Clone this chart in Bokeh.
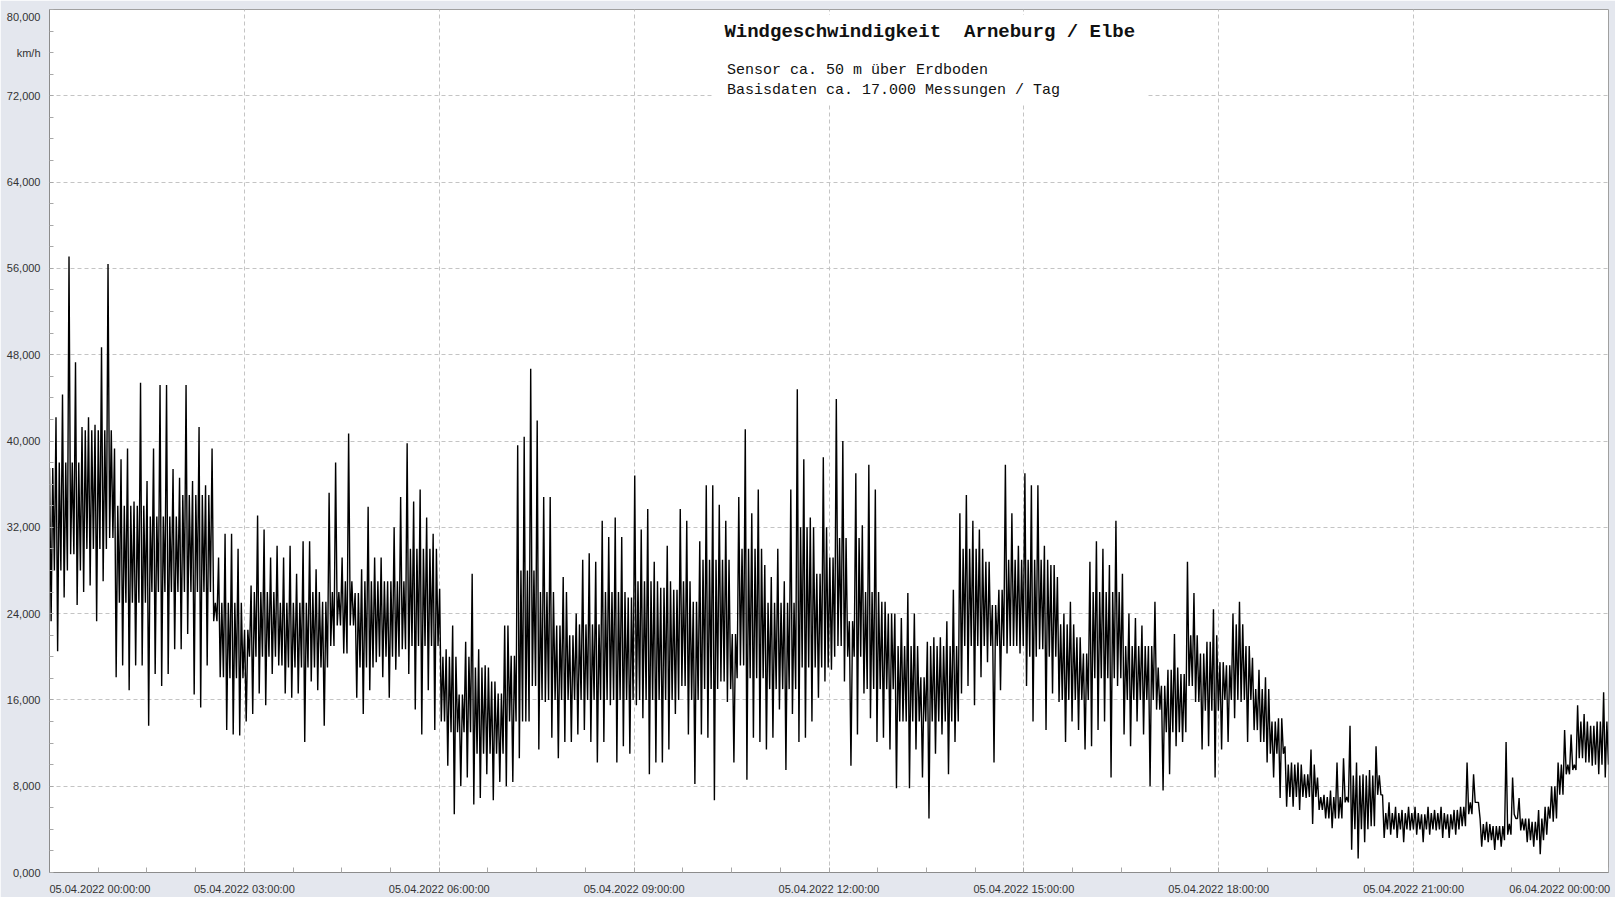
import numpy as np
from bokeh.plotting import figure
from bokeh.models import FixedTicker, CustomJSTickFormatter, Label, BoxAnnotation, ColumnDataSource
from bokeh.embed import file_html
from bokeh.resources import INLINE

# Wind speed (km/h), 05.04.2022 00:00 - 06.04.2022 00:00
# per 6-minute interval: local high and local low (spikes)
HI = [
    37.5, 42.2, 44.3, 57.1, 47.3, 41.3, 42.2, 41.5, 48.7, 56.4,   # 00h
    39.3, 38.3, 39.3, 34.4, 45.4, 36.3, 39.3, 45.2, 45.2, 37.4,   # 01h
    36.6, 45.2, 36.3, 41.3, 35.9, 39.3, 29.2, 31.4, 31.4, 30.0,   # 02h
    22.5, 26.6, 33.1, 31.8, 29.2, 30.3, 29.2, 30.3, 27.7, 30.7,   # 03h
    30.7, 28.1, 25.1, 35.2, 38.0, 29.2, 40.7, 25.9, 28.1, 33.9,   # 04h
    29.2, 29.2, 27.0, 32.0, 34.8, 39.8, 34.4, 35.5, 32.9, 31.4,   # 05h
    26.3, 20.7, 22.9, 16.5, 21.4, 27.7, 20.7, 19.2, 17.7, 16.6,   # 06h
    22.9, 20.1, 39.6, 40.4, 46.7, 41.9, 34.8, 34.8, 22.9, 27.4,   # 07h
    22.0, 24.0, 29.0, 29.6, 28.8, 32.6, 31.1, 32.9, 31.1, 25.5,   # 08h
    36.8, 31.8, 33.7, 28.8, 26.4, 30.3, 26.2, 33.7, 32.6, 25.1,   # 09h
    30.7, 35.9, 35.9, 34.1, 32.6, 22.1, 34.8, 41.1, 33.3, 35.5,   # 10h
    28.5, 27.4, 30.0, 27.0, 35.5, 44.8, 38.3, 32.9, 27.7, 38.5,   # 11h
    29.2, 43.9, 40.0, 23.3, 37.0, 32.2, 37.8, 35.5, 25.1, 24.0,   # 12h
    24.0, 23.6, 25.9, 24.0, 18.1, 21.4, 21.8, 21.8, 23.3, 26.2,   # 13h
    33.3, 35.0, 32.6, 31.8, 28.8, 24.8, 26.2, 37.8, 33.3, 30.3,   # 14h
    37.0, 35.9, 35.9, 30.3, 28.5, 27.4, 24.0, 25.1, 21.8, 20.3,   # 15h
    28.8, 30.7, 30.0, 28.5, 32.6, 27.7, 24.0, 23.6, 22.9, 21.0,   # 16h
    25.1, 17.3, 18.8, 22.1, 18.4, 28.8, 25.9, 20.3, 21.4, 24.4,   # 17h
    19.5, 19.2, 24.0, 25.1, 21.0, 19.9, 18.8, 18.1, 14.0, 14.3,   # 18h
    11.7, 10.2, 10.2, 9.1, 11.4, 8.8, 7.2, 7.6, 10.2, 10.6,       # 19h
    13.6, 10.2, 9.1, 9.5, 11.7, 7.2, 6.5, 6.1, 5.8, 6.1,          # 20h
    6.1, 5.4, 6.1, 5.8, 6.1, 5.4, 5.8, 6.1, 10.2, 9.1,            # 21h
    5.0, 4.7, 4.3, 4.3, 12.1, 8.8, 6.9, 5.0, 4.7, 5.8,            # 22h
    6.1, 8.0, 10.2, 13.2, 12.8, 15.5, 14.7, 13.6, 14.0, 16.7,     # 23h
]
LO = [
    23.3, 20.5, 25.5, 29.5, 24.8, 26.0, 26.6, 23.3, 27.0, 31.0,   # 00h
    18.1, 19.2, 16.9, 19.2, 19.2, 13.6, 18.4, 17.3, 18.4, 20.7,   # 01h
    20.7, 22.1, 16.5, 15.3, 19.2, 23.3, 18.1, 13.2, 12.8, 12.7,   # 02h
    14.0, 14.7, 16.6, 15.5, 18.4, 19.2, 16.6, 16.2, 16.6, 12.1,   # 03h
    17.7, 16.9, 13.6, 21.0, 22.9, 20.3, 22.9, 16.2, 14.7, 16.9,   # 04h
    19.5, 18.1, 16.2, 18.8, 20.7, 18.4, 15.1, 12.8, 16.9, 13.2,   # 05h
    14.0, 9.9, 5.4, 8.0, 8.8, 6.3, 6.9, 9.1, 6.7, 8.4,            # 06h
    8.0, 8.4, 10.6, 14.0, 17.3, 11.4, 15.8, 12.5, 10.6, 12.1,     # 07h
    12.1, 12.8, 13.2, 12.1, 10.2, 12.1, 15.5, 10.2, 11.7, 11.0,   # 08h
    15.5, 14.3, 9.1, 10.2, 10.2, 11.4, 14.7, 17.3, 12.8, 8.2,     # 09h
    12.8, 12.5, 6.7, 17.7, 15.8, 10.2, 19.2, 8.6, 12.5, 12.1,     # 10h
    11.4, 12.5, 15.1, 9.5, 14.7, 12.1, 12.5, 14.0, 16.2, 17.7,    # 11h
    18.8, 21.0, 17.7, 9.9, 12.8, 16.6, 14.3, 12.1, 12.5, 11.4,    # 12h
    7.8, 14.0, 7.8, 11.4, 8.8, 5.0, 11.0, 12.8, 9.1, 12.1,        # 13h
    16.6, 17.3, 15.5, 18.1, 19.5, 10.2, 16.9, 20.3, 21.0, 20.3,   # 14h
    17.3, 14.0, 20.7, 13.2, 16.6, 15.8, 12.1, 14.0, 13.2, 11.4,   # 15h
    11.7, 13.2, 14.0, 8.8, 17.3, 12.8, 11.7, 14.0, 12.8, 8.0,     # 16h
    15.1, 7.6, 9.1, 11.7, 12.1, 17.3, 15.8, 11.4, 11.7, 8.8,      # 17h
    11.4, 12.1, 14.3, 15.8, 12.1, 13.2, 12.1, 10.2, 8.8, 6.9,     # 18h
    6.1, 6.1, 5.8, 6.9, 4.5, 5.8, 5.0, 4.1, 5.0, 6.5,             # 19h
    2.1, 1.3, 2.8, 4.3, 7.2, 3.2, 3.5, 3.2, 2.8, 3.9,             # 20h
    3.5, 2.8, 3.5, 3.9, 3.2, 3.2, 3.5, 4.3, 5.4, 6.5,             # 21h
    2.4, 2.8, 2.1, 2.4, 3.5, 5.4, 3.9, 2.8, 2.4, 1.7,             # 22h
    3.5, 4.7, 7.2, 9.1, 9.5, 10.6, 10.2, 9.9, 9.1, 8.8,           # 23h
]
# per half hour: upper and lower edge of the dense core of the trace
CORE_HI = [38, 41, 34, 33, 35, 25, 26, 25, 26, 27, 27, 30, 20, 19, 28, 26,
           23, 26, 27, 27, 29, 30, 25, 32, 31, 26, 21, 21, 30, 29, 29, 23,
           26, 21, 19, 22, 23, 17, 10, 7, 9, 5.5, 5.5, 6.5, 4.5, 5, 10, 14]
CORE_LO = [28, 30, 25, 26, 26, 18, 20, 19, 19, 19, 20, 21, 13, 11, 14, 16,
           16, 16, 16, 16, 17, 18, 17, 19, 20, 17, 14, 14, 21, 21, 20, 16,
           18, 16, 13, 15, 16, 11, 7, 5, 4, 4, 4, 4, 3, 3, 5, 10]

GRID_X = [0, 3, 6, 9, 12, 15, 18, 21, 24]
X_LABEL_POS = [0.776, 3, 6, 9, 12, 15, 18, 21, 23.25]
X_LABELS = ["05.04.2022 00:00:00", "05.04.2022 03:00:00", "05.04.2022 06:00:00",
            "05.04.2022 09:00:00", "05.04.2022 12:00:00", "05.04.2022 15:00:00",
            "05.04.2022 18:00:00", "05.04.2022 21:00:00", "06.04.2022 00:00:00"]
GRID_Y = [0, 8, 16, 24, 32, 40, 48, 56, 64, 72]
Y_EXTRA_POS = [79.35, 76.0]
Y_EXTRA_LABELS = ["80,000", "km/h"]
TITLE_A = "Windgeschwindigkeit"
TITLE_B = "Arneburg / Elbe"
SUB1 = "Sensor ca. 50 m über Erdboden"
SUB2 = "Basisdaten ca. 17.000 Messungen / Tag"

vals = []
for i, (h, l) in enumerate(zip(HI, LO)):
    ch = min(CORE_HI[i // 5], h)
    cl = max(CORE_LO[i // 5], l)
    if cl > ch:
        cl = ch
    vals += [h, l, ch, cl]
t = np.linspace(0, 24, len(vals))
src = ColumnDataSource(dict(t=t, v=vals))

BG = "#E4E7EE"
p = figure(width=1615, height=897, x_range=(0, 24), y_range=(0, 80),
           output_backend="svg", toolbar_location=None,
           min_border_left=49, min_border_right=7, min_border_top=9, min_border_bottom=24,
           background_fill_color="white", border_fill_color=BG,
           outline_line_color="#A0A0A0")

p.line("t", "v", source=src, line_color="black", line_width=1.4)

TICK_GRAY = "#A8A8A8"
# x axis: tick marks every 45 min, labels placed like the original
p.xaxis.ticker = FixedTicker(ticks=X_LABEL_POS, minor_ticks=[0.75 * k for k in range(33)])
p.xaxis.formatter = CustomJSTickFormatter(args=dict(pos=X_LABEL_POS, labs=X_LABELS), code="""
for (let i = 0; i < pos.length; i++) { if (Math.abs(tick - pos[i]) < 1e-6) return labs[i]; }
return '';""")
p.xaxis.major_tick_line_color = None
p.xaxis.minor_tick_in = 5
p.xaxis.minor_tick_out = 0
p.xaxis.minor_tick_line_color = TICK_GRAY
p.xaxis.major_label_standoff = 4
p.xaxis.major_label_text_font = "Liberation Sans"
p.xaxis.major_label_text_font_size = "11px"
p.xaxis.major_label_text_color = "#333333"
p.xaxis.axis_line_color = "#8C8C8C"

# y axis
p.yaxis.ticker = FixedTicker(ticks=GRID_Y + Y_EXTRA_POS, minor_ticks=list(range(0, 81, 2)))
p.yaxis.formatter = CustomJSTickFormatter(args=dict(pos=Y_EXTRA_POS, labs=Y_EXTRA_LABELS), code="""
for (let i = 0; i < pos.length; i++) { if (Math.abs(tick - pos[i]) < 1e-6) return labs[i]; }
return tick.toFixed(3).replace('.', ',');""")
p.yaxis.major_tick_line_color = None
p.yaxis.minor_tick_in = 4
p.yaxis.minor_tick_out = 0
p.yaxis.minor_tick_line_color = TICK_GRAY
p.yaxis.major_label_standoff = 3
p.yaxis.major_label_text_font = "Liberation Sans"
p.yaxis.major_label_text_font_size = "11px"
p.yaxis.major_label_text_color = "#333333"
p.yaxis.axis_line_color = "#8C8C8C"

# grid
p.xgrid.ticker = FixedTicker(ticks=GRID_X)
p.ygrid.ticker = FixedTicker(ticks=GRID_Y)
for g in (p.xgrid, p.ygrid):
    g.grid_line_color = "#C4C4C4"
    g.grid_line_dash = "4 3"
    g.grid_line_width = 1

# title block
p.add_layout(BoxAnnotation(left=10.22, right=16.89, bottom=71.2, top=79.5,
                           fill_color="white", fill_alpha=1.0, line_color=None))
p.add_layout(Label(x=10.39, y=77.87, text=TITLE_A, text_align="left", text_baseline="middle",
                   text_font="Liberation Mono", text_font_size="19px", text_font_style="bold",
                   text_color="#111111"))
p.add_layout(Label(x=14.08, y=77.87, text=TITLE_B, text_align="left", text_baseline="middle",
                   text_font="Liberation Mono", text_font_size="19px", text_font_style="bold",
                   text_color="#111111"))
p.add_layout(Label(x=10.43, y=74.3, text=SUB1, text_align="left", text_baseline="middle",
                   text_font="Liberation Mono", text_font_size="15px", text_color="#111111"))
p.add_layout(Label(x=10.43, y=72.45, text=SUB2, text_align="left", text_baseline="middle",
                   text_font="Liberation Mono", text_font_size="15px", text_color="#111111"))

open("out.html", "w").write(file_html(p, INLINE))
